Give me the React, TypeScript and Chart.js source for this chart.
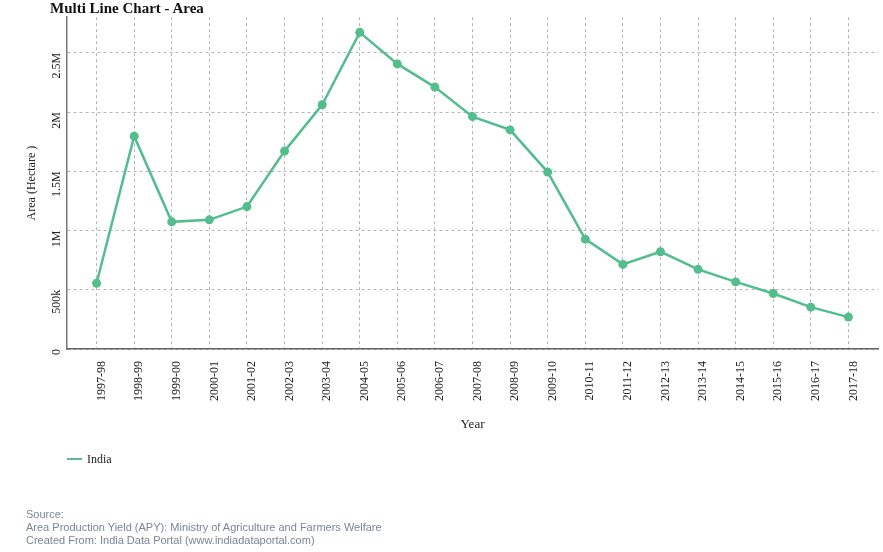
import React, { useEffect, useRef } from "react";
import { Chart, registerables } from "chart.js";

Chart.register(...registerables);

const years = [
  "1997-98", "1998-99", "1999-00", "2000-01", "2001-02", "2002-03", "2003-04",
  "2004-05", "2005-06", "2006-07", "2007-08", "2008-09", "2009-10", "2010-11",
  "2011-12", "2012-13", "2013-14", "2014-15", "2015-16", "2016-17", "2017-18",
];

const indiaArea = [
  555000, 1796000, 1073000, 1090000, 1202000, 1670000, 2061000,
  2672000, 2406000, 2210000, 1961000, 1849000, 1493000, 927000,
  714000, 821000, 672000, 566000, 468000, 353000, 269000,
];

const yTickValues = [0, 500000, 1000000, 1500000, 2000000, 2500000];

const seriesName = "India";
const lineColor = "#53bd8e";
const yMax = 2800000;

function fmt(v: number): string {
  if (v === 0) return "0";
  if (v >= 1000000) return v / 1000000 + "M";
  return v / 1000 + "k";
}

export default function App() {
  const ref = useRef<HTMLCanvasElement | null>(null);

  useEffect(() => {
    if (!ref.current) return;
    const serif = "'Liberation Serif', 'Times New Roman', serif";
    const chart = new Chart(ref.current, {
      type: "line",
      data: {
        datasets: [
          {
            label: seriesName,
            data: indiaArea.map((v, i) => ({ x: i, y: v })),
            borderColor: lineColor,
            backgroundColor: lineColor,
            borderWidth: 2.5,
            pointRadius: 4.5,
            pointHoverRadius: 4.5,
            pointBorderWidth: 0,
            tension: 0,
          },
        ],
      },
      options: {
        animation: false,
        responsive: false,
        maintainAspectRatio: false,
        layout: { padding: { left: 0, right: 4, top: 15, bottom: 118 } },
        plugins: {
          legend: { display: false },
          title: { display: false },
          tooltip: { enabled: false },
        },
        scales: {
          x: {
            type: "linear",
            min: -0.8,
            max: years.length - 1 + 0.8,
            afterBuildTicks: (s: any) => {
              s.ticks = years.map((_, i) => ({ value: i }));
            },
            afterFit: (s: any) => {
              s.height = 85;
            },
            ticks: {
              autoSkip: false,
              maxRotation: 90,
              minRotation: 90,
              padding: 12,
              labelOffset: 5,
              color: "#222",
              font: { family: serif, size: 12 },
              callback: (v: any) => years[v as number] ?? "",
            },
            grid: { color: "#b5b5b5", lineWidth: 1, drawTicks: false },
            border: { display: true, color: "#666", width: 1.5, dash: [3, 3] },
            title: {
              display: true,
              text: "Year",
              color: "#222",
              font: { family: serif, size: 13 },
              padding: { top: 0, bottom: 2 },
            },
          },
          y: {
            type: "linear",
            min: 0,
            max: yMax,
            afterBuildTicks: (s: any) => {
              s.ticks = yTickValues.map((v) => ({ value: v }));
            },
            afterFit: (s: any) => {
              s.width = 66.5;
            },
            ticks: {
              autoSkip: false,
              minRotation: 90,
              maxRotation: 90,
              padding: 10,
              color: "#222",
              font: { family: serif, size: 12 },
              callback: (v: any) => fmt(v as number),
            },
            grid: { color: "#b5b5b5", lineWidth: 1, drawTicks: false },
            border: { display: true, color: "#777", width: 1.5, dash: [3, 3] },
            title: {
              display: true,
              text: "Area (Hectare )",
              color: "#222",
              font: { family: serif, size: 12 },
              padding: { top: 25, bottom: 0 },
            },
          },
        },
      },
    } as any);
    return () => chart.destroy();
  }, []);

  const serifCss = "'Liberation Serif', 'Times New Roman', serif";
  const sansCss = "'Liberation Sans', Arial, sans-serif";

  return (
    <div style={{ position: "fixed", left: 0, top: 0, width: 883, height: 552, background: "#fff" }}>
      <canvas ref={ref} width={883} height={552} style={{ position: "absolute", left: 0, top: 0, width: 883, height: 552 }} />
      <div
        style={{
          position: "absolute",
          left: 50,
          top: 0,
          fontFamily: serifCss,
          fontWeight: "bold",
          fontSize: 15,
          lineHeight: "17px",
          color: "#111",
          whiteSpace: "nowrap",
        }}
      >
        Multi Line Chart - Area
      </div>
      <div style={{ position: "absolute", left: 67, top: 451, display: "flex", alignItems: "center", whiteSpace: "nowrap" }}>
        <span style={{ display: "inline-block", width: 15, height: 2, background: lineColor, marginRight: 5 }} />
        <span style={{ fontFamily: serifCss, fontSize: 12, lineHeight: "16px", color: "#222" }}>{seriesName}</span>
      </div>
      <div
        style={{
          position: "absolute",
          left: 26,
          top: 508,
          fontFamily: sansCss,
          fontSize: 11,
          lineHeight: "13px",
          color: "#7a8596",
          whiteSpace: "nowrap",
        }}
      >
        <div>Source:</div>
        <div>Area Production Yield (APY): Ministry of Agriculture and Farmers Welfare</div>
        <div>Created From: India Data Portal (www.indiadataportal.com)</div>
      </div>
    </div>
  );
}
